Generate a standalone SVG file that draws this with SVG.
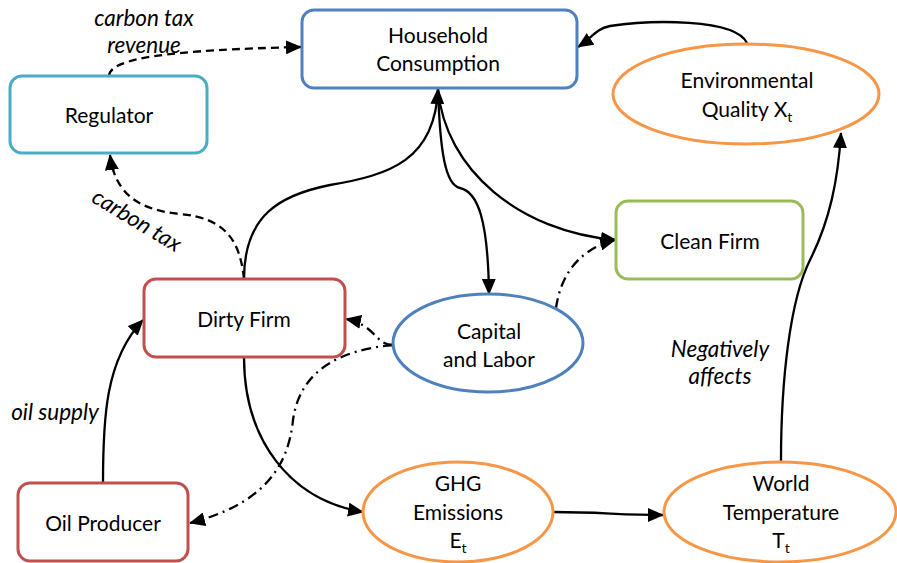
<svg xmlns="http://www.w3.org/2000/svg" width="897" height="563" viewBox="0 0 897 563">
<defs>
<marker id="ah" markerUnits="userSpaceOnUse" markerWidth="16" markerHeight="14" refX="15" refY="7" orient="auto">
<path d="M0,0 L16,7 L0,14 Z" fill="#000"/>
</marker>
<style>
.n{fill:#fff;stroke-width:3}
.t{font-family:Lato,"Open Sans","Liberation Sans",sans-serif;font-size:21px;fill:#000;text-anchor:middle}
.l{font-family:Lato,"Open Sans","Liberation Sans",sans-serif;font-size:22.5px;font-style:italic;fill:#000;text-anchor:middle}
.c{fill:none;stroke:#000;stroke-width:2.3;marker-end:url(#ah)}
.d{stroke-dasharray:8,5}
.dd{stroke-dasharray:10,5,2,5}
.s{font-size:14px}
</style>
</defs>
<rect width="897" height="563" fill="#fff"/>
<g id="connectors">
<path class="c d" d="M109,76 C110,58 170,50 301,47"/>
<path class="c" d="M747,43 C735,18 650,20 610,26 C595,29 592,38 578,47"/>
<path class="c" d="M244,279 C244,215 280,195 330,185 C390,175 435,160 438,89"/>
<path class="c" d="M438,89 C440,150 445,185 460,188 C478,192 488,220 489,294"/>
<path class="c" d="M438,89 C445,170 520,232 616,240"/>
<path class="c d" d="M244,279 C240,240 225,218 180,214 C140,210 115,195 110,155"/>
<path class="c dd" d="M393,345 C375,345 376,325 346,319"/>
<path class="c dd" d="M393,345 C340,350 300,370 293,420 C288,470 260,505 190,523"/>
<path class="c dd" d="M556,308 C560,280 575,250 615,240"/>
<path class="c" d="M244,357 C244,440 290,500 363,512"/>
<path class="c" d="M103,483 C103,420 105,360 143,320"/>
<path class="c" d="M553,512 C600,512 620,515 663,515"/>
<path class="c" d="M781,461 C781,380 790,300 810,260 C830,220 838,180 841,133"/>
</g>
<g id="household">
<rect class="n" x="302" y="10" width="275" height="78" rx="12" stroke="#4F81BD"/>
<text class="t" x="438" y="43">Household</text>
<text class="t" x="438" y="71">Consumption</text>
</g>
<g id="regulator">
<rect class="n" x="10" y="76" width="197" height="77" rx="12" stroke="#4BACC6"/>
<text class="t" x="109" y="123">Regulator</text>
</g>
<g id="envquality">
<ellipse class="n" cx="746" cy="94" rx="133" ry="50" stroke="#F79646"/>
<text class="t" x="747" y="88">Environmental</text>
<text class="t" x="747" y="117">Quality X<tspan class="s" dy="5">t</tspan></text>
</g>
<g id="dirtyfirm">
<rect class="n" x="144" y="279" width="201" height="78" rx="12" stroke="#C0504D"/>
<text class="t" x="244" y="327">Dirty Firm</text>
</g>
<g id="cleanfirm">
<rect class="n" x="616" y="201" width="187" height="78" rx="12" stroke="#9BBB59"/>
<text class="t" x="710" y="249">Clean Firm</text>
</g>
<g id="capital">
<ellipse class="n" cx="488" cy="343" rx="95" ry="49" stroke="#4F81BD"/>
<text class="t" x="489" y="339">Capital</text>
<text class="t" x="489" y="367">and Labor</text>
</g>
<g id="oilproducer">
<rect class="n" x="18" y="483" width="170" height="78" rx="12" stroke="#C0504D"/>
<text class="t" x="103" y="531">Oil Producer</text>
</g>
<g id="ghg">
<ellipse class="n" cx="458" cy="512" rx="95" ry="50" stroke="#F79646"/>
<text class="t" x="458" y="491">GHG</text>
<text class="t" x="458" y="520">Emissions</text>
<text class="t" x="458" y="548">E<tspan class="s" dy="5">t</tspan></text>
</g>
<g id="worldtemp">
<ellipse class="n" cx="780" cy="512" rx="116" ry="50" stroke="#F79646"/>
<text class="t" x="781" y="491">World</text>
<text class="t" x="781" y="520">Temperature</text>
<text class="t" x="781" y="548">T<tspan class="s" dy="5">t</tspan></text>
</g>
<g id="labels">
<text class="l" x="144" y="26">carbon tax</text>
<text class="l" x="144" y="53">revenue</text>
<text class="l" x="133" y="227" transform="rotate(31 133 227)">carbon tax</text>
<text class="l" x="55" y="420">oil supply</text>
<text class="l" x="720" y="357">Negatively</text>
<text class="l" x="720" y="384">affects</text>
</g>
</svg>
